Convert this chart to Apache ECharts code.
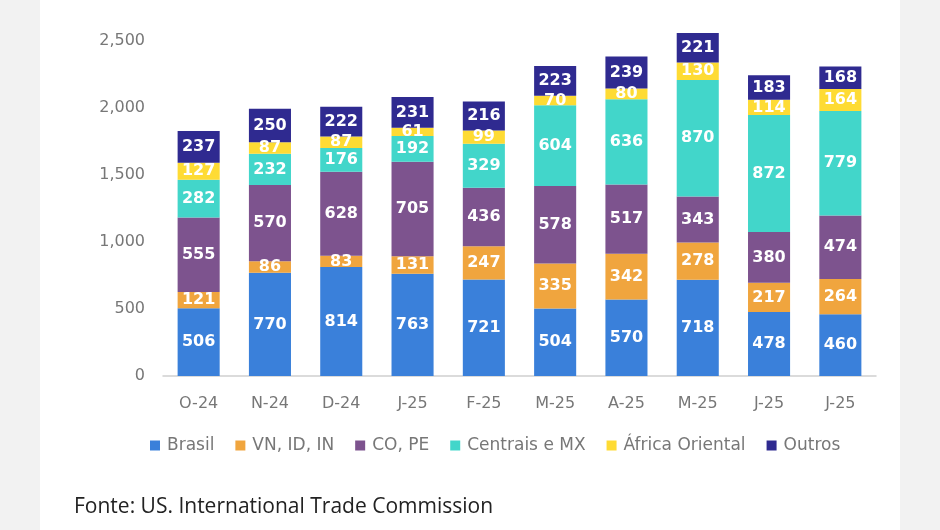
<!DOCTYPE html>
<html><head><meta charset="utf-8">
<script src="https://cdn.jsdelivr.net/npm/echarts@6/dist/echarts.min.js"></script>
<style>html,body{margin:0;padding:0;background:#f2f2f2}#wrap{position:absolute;left:40px;top:0;width:860px;height:530px;background:#fff}#c{position:absolute;left:0;top:0;width:940px;height:530px}</style>
</head><body><div id="wrap"></div><div id="c"></div>
<script>
const categories = ['O-24','N-24','D-24','J-25','F-25','M-25','A-25','M-25','J-25','J-25'];
const brasil   = [506,770,814,763,721,504,570,718,478,460];
const vn       = [121,86,83,131,247,335,342,278,217,264];
const coPe     = [555,570,628,705,436,578,517,343,380,474];
const centrais = [282,232,176,192,329,604,636,870,872,779];
const africa   = [127,87,87,61,99,70,80,130,114,164];
const outros   = [237,250,222,231,216,223,239,221,183,168];
const seriesNames = ['Brasil','VN, ID, IN','CO, PE','Centrais e MX','África Oriental','Outros'];
const seriesData = [brasil, vn, coPe, centrais, africa, outros];
const colors = ['#3a80da','#f0a53e','#7d538e','#42d6ca','#fedb34','#2f2a90'];

const labelFont = 'DejaVu Sans';
const chart = echarts.init(document.getElementById('c'));
chart.setOption({
  animation:false,
  backgroundColor:'transparent',
  grid:{left:163,right:64,top:41,bottom:154},
  legend:{
    left:145, top:432, itemWidth:10, itemHeight:10, itemGap:21,
    icon:'rect',
    textStyle:{color:'#777', fontSize:17, fontFamily:labelFont, padding:[0,0,0,2]},
    data:seriesNames
  },
  xAxis:{
    type:'category', data:categories,
    axisLine:{lineStyle:{color:'#d0d0d0', width:1.5}},
    axisTick:{show:false},
    axisLabel:{color:'#777', fontSize:16, fontFamily:labelFont, margin:20}
  },
  yAxis:{
    type:'value', min:0, max:2500, interval:500,
    axisLine:{show:false}, axisTick:{show:false}, splitLine:{show:false},
    axisLabel:{color:'#777', fontSize:16, fontFamily:labelFont, margin:18,
      formatter:v=>v.toLocaleString('en-US')}
  },
  series: seriesNames.map((n,i)=>({
    name:n, type:'bar', stack:'total', barWidth:'59%', clip:false,
    data:seriesData[i],
    itemStyle:{color:colors[i]},
    label:{show:true, position:'inside', color:'#fff', fontWeight:'bold',
      fontSize:16, fontFamily:labelFont}
  })),
  graphic:[{type:'text', left:74, top:497,
    style:{text:'Fonte: US. International Trade Commission', fill:'#222',
      font:'21px "Open Sans", sans-serif'}}]
});
</script></body></html>
